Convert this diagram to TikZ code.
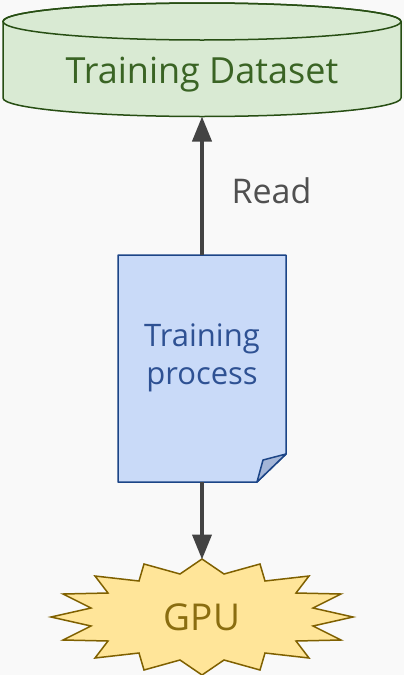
\documentclass[tikz,border=0pt]{standalone}
\usepackage{fontspec}
\setmainfont{Open Sans}
\usetikzlibrary{arrows.meta}
\definecolor{bgcol}{HTML}{F9F9F9}
\definecolor{dsfill}{HTML}{D9EAD3}
\definecolor{dsline}{HTML}{274E13}
\definecolor{dstext}{HTML}{3A6424}
\definecolor{prfill}{HTML}{C9DAF8}
\definecolor{prline}{HTML}{1C4587}
\definecolor{prtext}{HTML}{2E5193}
\definecolor{prfold}{HTML}{A4B6D8}
\definecolor{gpfill}{HTML}{FFE599}
\definecolor{gpline}{HTML}{7F6000}
\definecolor{gptext}{HTML}{8A6D10}
\definecolor{arrcol}{HTML}{434343}
\definecolor{lbltext}{HTML}{505050}
\tikzset{
  dataset/.style={fill=dsfill, draw=dsline, line width=1.5pt},
  procbox/.style={fill=prfill, draw=prline, line width=1.5pt, line join=round},
  foldflap/.style={fill=prfold, draw=prline, line width=1.5pt, line join=round},
  burst/.style={fill=gpfill, draw=gpline, line width=1.5pt, line join=miter},
  flow/.style={draw=arrcol, line width=4pt, -{Triangle[length=25pt, width=19pt]}},
}
\begin{document}
\begin{tikzpicture}[x=1pt, y=-1pt]
\fill[bgcol] (0,0) rectangle (404,675);
\useasboundingbox (0,0) rectangle (404,675);

% storage cylinder
\path[dataset] (3,21.5) -- (3,98)
  arc[start angle=180, end angle=0, x radius=199, y radius=18.5]
  -- (401,21.5)
  arc[start angle=0, end angle=-180, x radius=199, y radius=18.5] -- cycle;
\draw[dataset, fill=none] (202,21.5) ellipse[x radius=199, y radius=18.5];
\node[anchor=base, text=dstext, font=\fontsize{36}{43}\selectfont] (data) at (202,83) {Training Dataset};
\coordinate (databottom) at (202,116.5);

% process document with folded corner
\path[procbox] (118,255) -- (286,255) -- (286,454) -- (257,482) -- (118,482) -- cycle;
\path[foldflap] (257,482) -- (263,460) -- (286,454) -- cycle;
\node[align=center, text=prtext, font=\fontsize{31}{37.5}\selectfont] (proc) at (202,358) {Training\\process};
\coordinate (proctop) at (202,255);
\coordinate (procbottom) at (202,482);

% GPU burst
\path[burst, shift={(202,617)}]
  (0,-58) -- (22,-43) -- (58,-53) -- (63,-36) -- (107,-41) -- (94,-24)
  -- (139,-23) -- (111,-9) -- (151,0) -- (111,9) -- (139,23) -- (94,24)
  -- (107,41) -- (63,36) -- (58,53) -- (22,43) -- (0,58) -- (-22,43)
  -- (-58,53) -- (-63,36) -- (-107,41) -- (-94,24) -- (-139,23) -- (-111,9)
  -- (-151,0) -- (-111,-9) -- (-139,-23) -- (-94,-24) -- (-107,-41)
  -- (-63,-36) -- (-58,-53) -- (-22,-43) -- cycle;
\node[anchor=base, text=gptext, font=\fontsize{37}{44}\selectfont] (gpu) at (202,630) {GPU};
\coordinate (gputop) at (202,559.5);

% connectors
\draw[flow] (proctop) -- (databottom);
\draw[flow] (procbottom) -- (gputop);
\node[anchor=base west, text=lbltext, font=\fontsize{34}{40}\selectfont] (readlbl) at (228,203) {Read};
\end{tikzpicture}
\end{document}
